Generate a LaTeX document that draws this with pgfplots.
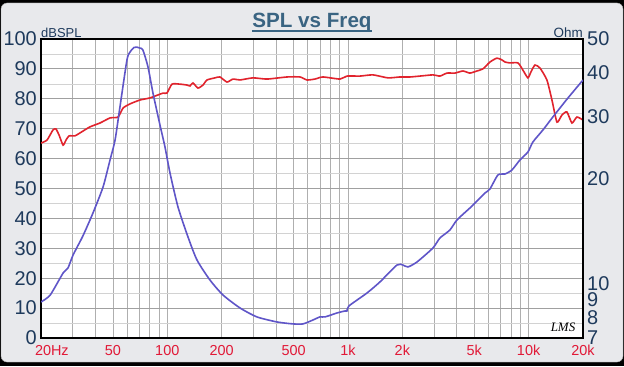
\documentclass[border=0pt]{standalone}
\usepackage{fontspec}
\setmainfont{Liberation Sans}
\newfontfamily\lmsfont{Liberation Serif}
\usepackage{pgfplots}
\pgfplotsset{compat=1.18}
\definecolor{bgpanel}{RGB}{232,233,236}
\definecolor{lblue}{RGB}{30,58,92}
\definecolor{xred}{RGB}{225,25,55}
\definecolor{ttl}{RGB}{58,100,130}
\definecolor{splred}{RGB}{225,35,45}
\definecolor{zblue}{RGB}{95,85,200}
\definecolor{gvert}{RGB}{175,175,175}
\definecolor{ghmaj}{RGB}{160,160,160}
\definecolor{ghmin}{RGB}{210,210,210}
\begin{document}
\begin{tikzpicture}[x=1bp,y=1bp]
\useasboundingbox (0,0) rectangle (624,366);
\fill[black] (0,0) rectangle (624,366);
\fill[bgpanel, draw=gray!70, rounded corners=6bp] (1,4) rectangle (623,363);

\begin{axis}[
  at={(41bp,28bp)}, anchor=south west, scale only axis,
  width=542bp, height=299bp,
  xmode=log, xmin=20, xmax=20000, ymin=0, ymax=100,
  axis background/.style={fill=white},
  xtick={20,50,100,200,500,1000,2000,5000,10000,20000},
  xticklabels={\makebox[0pt][l]{\hspace{-6bp}20Hz},50,100,200,500,1k,2k,5k,10k,20k},
  minor xtick={30,40,60,70,80,90,300,400,600,700,800,900,3000,4000,6000,7000,8000,9000},
  ytick={0,10,20,30,40,50,60,70,80,90,100},
  yticklabels={0,10,20,30,40,50,60,70,80,90,100},
  minor ytick={5,15,25,35,45,55,65,75,85,95},
  grid=both,
  major x grid style={gvert, line width=0.8bp},
  minor x grid style={gvert, line width=0.8bp},
  major y grid style={ghmaj, line width=0.8bp},
  minor y grid style={ghmin, line width=0.6bp},
  tick style={draw=none},
  axis line style={draw=black, line width=1.2bp},
  yticklabel style={font=\fontsize{20}{20}\selectfont, text=lblue, anchor=east, inner sep=0pt, xshift=-4bp},
  xticklabel style={font=\fontsize{14.5}{14.5}\selectfont, text=xred, anchor=north, inner sep=0pt, yshift=-7bp},
]
\addplot[splred, line width=1.6bp, smooth, tension=0.35] coordinates {
(20.0,65.2) (21.6,66.2) (23.3,69.6) (24.2,69.9) (25.2,67.8) (26.5,64.5) (27.5,66.2)
(28.6,67.6) (30.8,67.6) (32.9,68.6) (37.3,70.6) (42.4,71.9) (48.2,73.6) (53.4,73.9)
(56.9,76.9) (62.2,78.3) (70.6,79.6) (80.2,80.3) (94.6,81.9) (99.5,81.9) (106.2,84.9)
(117.5,84.9) (128.5,84.6) (133.5,84.3) (138.7,85.3) (147.8,83.6) (157.6,84.6)
(165.9,86.3) (183.7,87.0) (195.7,87.3) (214,85.6) (230.9,86.6) (252.5,86.3)
(297.9,87.0) (356.5,86.6) (459.6,87.3) (542.4,87.3) (593,86.3) (656,86.6) (727,87.3)
(903,86.6) (987,87.6) (1165,87.6) (1375,88.0) (1664,87.0) (1940,87.3) (2204,87.3)
(2502,87.6) (2953,88.0) (3229,87.6) (3531,88.6) (3908,88.6) (4327,89.3) (4732,88.6)
(5173,89.3) (5585,90.0) (6107,92.3) (6676,93.6) (7116,93.0) (7398,92.3) (7882,92.0)
(8730,92.0) (9296,89.6) (9909,87.0) (10300,89.0) (10840,91.3) (11550,90.3)
(12620,86.3) (13460,79.6) (14350,72.2) (15290,74.6) (16290,75.6) (17370,71.9)
(18500,73.9) (20000,72.9)
};
\end{axis}

\begin{axis}[
  at={(41bp,28bp)}, anchor=south west, scale only axis,
  width=542bp, height=299bp,
  xmode=log, ymode=log, xmin=20, xmax=20000, ymin=7, ymax=50,
  axis x line=none, axis y line*=right,
  ytick={7,8,9,10,20,30,40,50},
  yticklabels={7,8,9,10,20,30,40,50},
  minor ytick={},
  tick style={draw=none},
  axis line style={draw=black, line width=1.2bp},
  yticklabel style={font=\fontsize{20}{20}\selectfont, text=lblue, anchor=west, inner sep=0pt, xshift=4bp},
]
\addplot[zblue, line width=1.6bp, smooth, tension=0.4] coordinates {
(20,8.87) (22.5,9.29) (26.5,10.73) (28.2,11.09) (30.1,12.08) (34.1,13.69) (38.8,15.93)
(44.1,18.9) (48.2,22.57) (51.4,25.74) (54.7,31.98) (59.8,43.55) (62.2,45.9) (65.4,47.3)
(67.9,47.4) (70.6,47.1) (73.3,46.5) (78.2,41.6) (83.3,35.06) (91.1,28.4) (97.1,24.58)
(103.5,20.72) (114.6,16.57) (130.2,13.6) (146,11.69) (172.2,10.25) (203.2,9.29)
(252.5,8.53) (313.6,8.04) (404.6,7.78) (496.3,7.68) (563.8,7.68) (640,7.88) (699.6,8.04)
(746.6,8.04) (869,8.25) (962,8.36) (987,8.36) (1012,8.64) (1274,9.41) (1503,10.12)
(1867,11.31) (2015,11.31) (2148,11.17) (2410,11.54) (2953,12.65) (3229,13.51)
(3667,14.24) (4010,15.21) (4732,16.46) (5045,17.01) (5732,18.16) (6107,18.65)
(6763,20.45) (7398,20.58) (8082,21.13) (8953,22.57) (9909,23.78) (10560,25.4)
(12000,27.49) (13620,29.94) (16500,33.92) (20000,38.19)
};
\end{axis}

\node[anchor=base, inner sep=0pt, font=\bfseries\fontsize{20.7}{20.7}\selectfont, text=ttl] (t) at (312,339) {SPL vs Freq};
\draw[ttl, line width=1.8bp] ([yshift=-4bp]t.base west) -- ([yshift=-4bp]t.base east);
\node[anchor=base west, inner sep=0pt, font=\fontsize{13}{13}\selectfont, text=lblue] at (41,329) {dBSPL};
\node[anchor=base east, inner sep=0pt, font=\fontsize{13.5}{13.5}\selectfont, text=lblue] at (583,329) {Ohm};
\node[inner sep=0pt, font=\lmsfont\itshape\fontsize{13}{13}\selectfont] at (563,39) {LMS};
\end{tikzpicture}
\end{document}
